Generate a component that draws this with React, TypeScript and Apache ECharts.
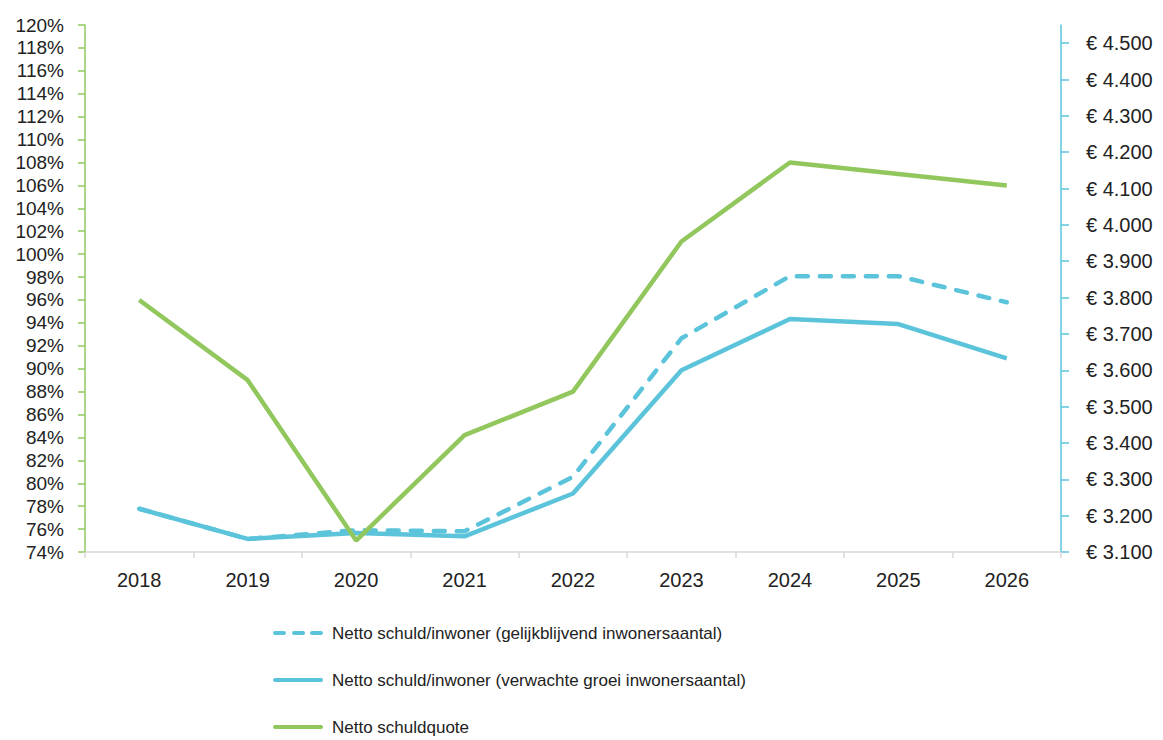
import React, { useEffect, useRef } from "react";
import * as echarts from "echarts";

const years = ["2018", "2019", "2020", "2021", "2022", "2023", "2024", "2025", "2026"];
const schuldGelijk = [3219, 3136, 3160, 3157, 3307, 3688, 3859, 3859, 3787];
const schuldGroei = [3219, 3136, 3152, 3143, 3261, 3600, 3741, 3727, 3633];
const schuldquote = [96, 89, 75, 84.2, 88, 101.1, 108, 107, 106];
const rightTicks = [3100, 3200, 3300, 3400, 3500, 3600, 3700, 3800, 3900, 4000, 4100, 4200, 4300, 4400, 4500];

const names = [
  "Netto schuld/inwoner (gelijkblijvend inwonersaantal)",
  "Netto schuld/inwoner (verwachte groei inwonersaantal)",
  "Netto schuldquote",
];

const BLUE = "#5bc4db";
const GREEN = "#91c75c";
const FONT = "Liberation Sans";

const DASH_ICON = "path://M2,0h9a2,2 0 0 1 0,4h-9a2,2 0 0 1 0,-4z M21,0h9a2,2 0 0 1 0,4h-9a2,2 0 0 1 0,-4z M39,0h9a2,2 0 0 1 0,4h-9a2,2 0 0 1 0,-4z";
const SOLID_ICON = "path://M2,0h46a2,2 0 0 1 0,4h-46a2,2 0 0 1 0,-4z";

function euro(v: number) {
  const t = Math.floor(v / 1000);
  const r = String(Math.round(v % 1000)).padStart(3, "0");
  return `€ ${t}.${r}`;
}

export default function App() {
  const ref = useRef<HTMLDivElement>(null);
  useEffect(() => {
    document.body.style.margin = "0";
    const chart = echarts.init(ref.current!, null, { renderer: "svg" });
    chart.setOption({
      animation: false,
      backgroundColor: "#ffffff",
      grid: { left: 85, right: 102, top: 25, bottom: 188 },
      legend: {
        orient: "vertical",
        left: 273,
        top: 623,
        height: 200,
        padding: 0,
        itemWidth: 50,
        itemHeight: 20,
        itemGap: 27,
        textStyle: { fontFamily: FONT, fontSize: 17, color: "#222", lineHeight: 20, padding: [0, 0, 0, 4] },
        data: [
          { name: names[0], icon: DASH_ICON },
          { name: names[1], icon: SOLID_ICON },
          { name: names[2], icon: SOLID_ICON },
        ],
      },
      xAxis: {
        type: "category",
        data: years,
        boundaryGap: true,
        axisLine: { lineStyle: { color: "#d9d9d9", width: 1.5 } },
        axisTick: { show: true, length: 6, lineStyle: { color: "#d9d9d9", width: 1.5 } },
        axisLabel: { fontFamily: FONT, fontSize: 20, color: "#222", margin: 18 },
      },
      yAxis: [
        {
          type: "value",
          min: 74,
          max: 120,
          interval: 2,
          position: "left",
          splitLine: { show: false },
          axisLine: { show: true, lineStyle: { color: GREEN, width: 1.5 } },
          axisTick: { show: true, length: 7, lineStyle: { color: GREEN, width: 1.5 } },
          axisLabel: {
            fontFamily: FONT,
            fontSize: 19,
            color: "#222",
            margin: 21,
            formatter: (v: number) => `${v}%`,
          },
        },
        {
          type: "value",
          min: 3100,
          max: 4550,
          interval: 100,
          position: "right",
          splitLine: { show: false },
          axisLine: { show: true, lineStyle: { color: BLUE, width: 1.5 } },
          axisTick: {
            show: true,
            length: 8,
            customValues: rightTicks,
            lineStyle: { color: BLUE, width: 1.5 },
          },
          axisLabel: {
            fontFamily: FONT,
            fontSize: 20,
            color: "#222",
            margin: 25,
            customValues: rightTicks,
            formatter: (v: number) => euro(v),
          },
        },
      ],
      series: [
        {
          name: names[0],
          type: "line",
          yAxisIndex: 1,
          data: schuldGelijk,
          symbol: "none",
          lineStyle: { color: BLUE, width: 4.5, type: [11, 12], cap: "round" },
          itemStyle: { color: BLUE },
        },
        {
          name: names[1],
          type: "line",
          yAxisIndex: 1,
          data: schuldGroei,
          symbol: "none",
          lineStyle: { color: BLUE, width: 4.5 },
          itemStyle: { color: BLUE },
        },
        {
          name: names[2],
          type: "line",
          yAxisIndex: 0,
          data: schuldquote,
          symbol: "none",
          lineStyle: { color: GREEN, width: 4.5 },
          itemStyle: { color: GREEN },
        },
      ],
    });
    return () => chart.dispose();
  }, []);
  return <div ref={ref} style={{ width: 1163, height: 740 }} />;
}
